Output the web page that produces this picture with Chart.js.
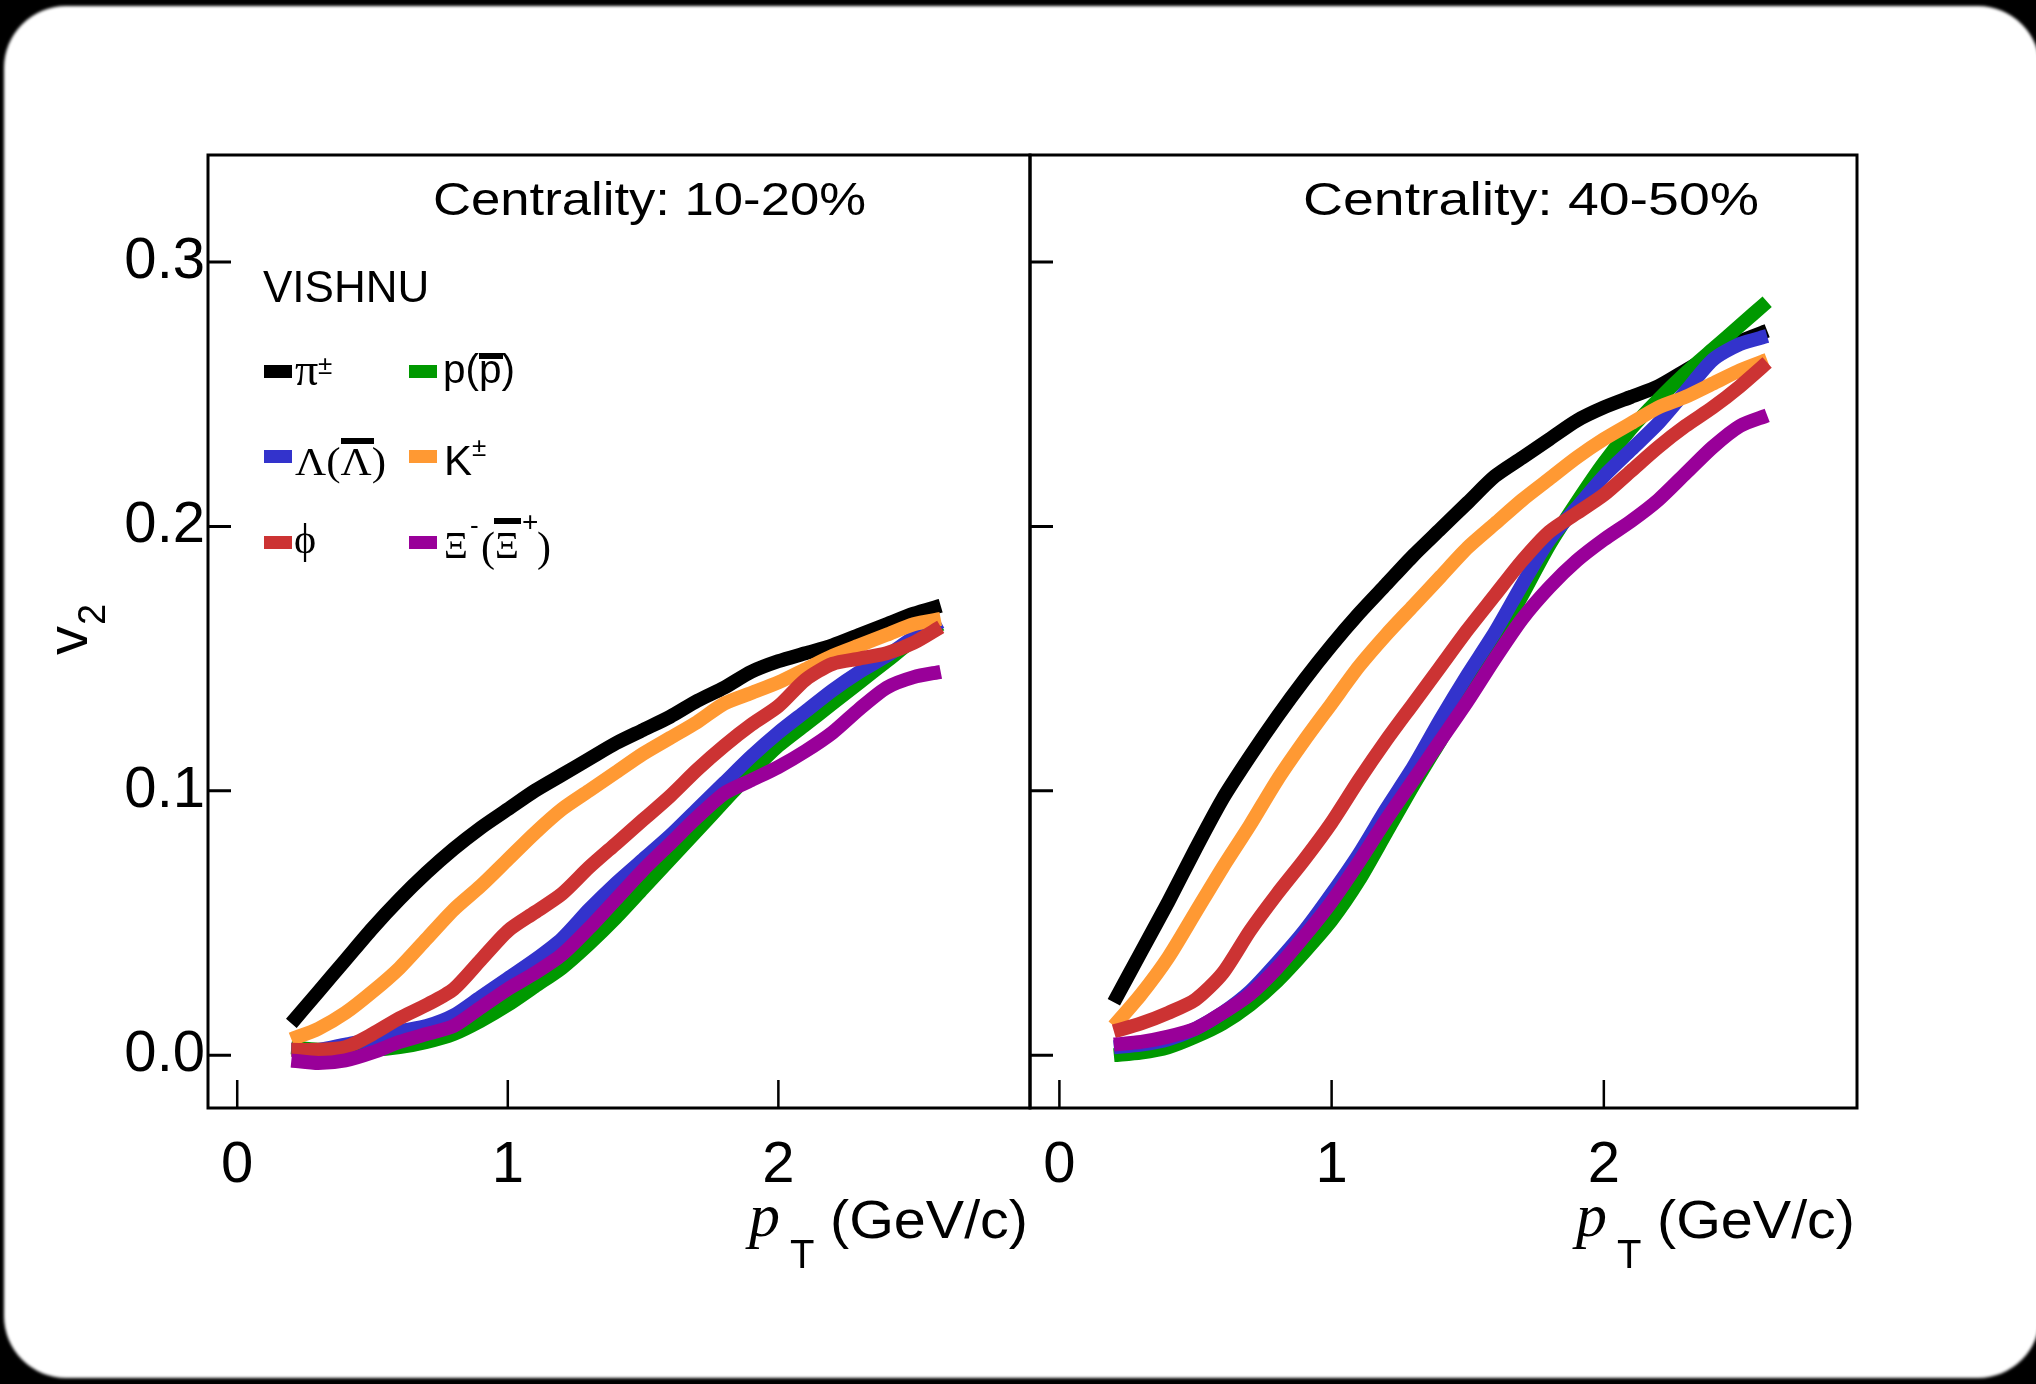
<!DOCTYPE html>
<html>
<head>
<meta charset="utf-8">
<title>VISHNU v2 vs pT</title>
<script src="https://cdn.jsdelivr.net/npm/chart.js@4.4.1/dist/chart.umd.min.js"></script>
<style>
  html, body { margin: 0; padding: 0; width: 2036px; height: 1384px; background: #000; overflow: hidden; }
  #card { position: absolute; left: 4px; top: 6px; width: 2036px; height: 1372px; background: #fff; border-radius: 62px; filter: blur(1.5px); }
  canvas { position: absolute; left: 0; top: 0; }
</style>
</head>
<body>
<div id="card"></div>
<canvas id="panelA" width="2036" height="1384" style="width:2036px;height:1384px"></canvas>
<canvas id="panelB" width="2036" height="1384" style="width:2036px;height:1384px"></canvas>
<script>
// transverse momentum grid (GeV/c)
const pT = [0.2, 0.3, 0.4, 0.5, 0.6, 0.7, 0.8, 0.9, 1.0, 1.1, 1.2, 1.3, 1.4,
            1.5, 1.6, 1.7, 1.8, 1.9, 2.0, 2.1, 2.2, 2.3, 2.4, 2.5, 2.6];

// v2 — centrality 10-20%
const pion1020   = [0.012, 0.024, 0.036, 0.048, 0.059, 0.069, 0.078, 0.086, 0.093, 0.100, 0.106, 0.112, 0.118,
                    0.123, 0.128, 0.134, 0.139, 0.145, 0.149, 0.152, 0.155, 0.159, 0.163, 0.167, 0.170];
const proton1020 = [0.003, 0.002, 0.002, 0.002, 0.003, 0.005, 0.008, 0.013, 0.019, 0.026, 0.033, 0.042, 0.052,
                    0.063, 0.074, 0.085, 0.096, 0.107, 0.117, 0.125, 0.133, 0.141, 0.149, 0.157, 0.163];
const lambda1020 = [0.002, 0.002, 0.004, 0.006, 0.009, 0.011, 0.015, 0.022, 0.029, 0.036, 0.044, 0.055, 0.065,
                    0.074, 0.083, 0.093, 0.103, 0.113, 0.122, 0.130, 0.138, 0.145, 0.151, 0.158, 0.164];
const kaon1020   = [0.006, 0.010, 0.016, 0.024, 0.033, 0.044, 0.055, 0.064, 0.074, 0.084, 0.093, 0.100, 0.107,
                    0.114, 0.120, 0.126, 0.133, 0.137, 0.141, 0.146, 0.151, 0.155, 0.159, 0.163, 0.165];
const phi1020    = [0.002, 0.002, 0.003, 0.008, 0.014, 0.019, 0.025, 0.036, 0.047, 0.054, 0.061, 0.071, 0.080,
                    0.089, 0.098, 0.108, 0.117, 0.125, 0.132, 0.142, 0.148, 0.150, 0.152, 0.156, 0.162];
const xi1020     = [-0.002, -0.003, -0.002, 0.001, 0.005, 0.008, 0.011, 0.018, 0.025, 0.031, 0.038, 0.048, 0.059,
                    0.070, 0.080, 0.090, 0.099, 0.104, 0.109, 0.115, 0.122, 0.131, 0.139, 0.143, 0.145];

// v2 — centrality 40-50%
const pion4050   = [0.020, 0.039, 0.058, 0.078, 0.097, 0.113, 0.128, 0.142, 0.155, 0.167, 0.178, 0.189, 0.199,
                    0.209, 0.219, 0.226, 0.233, 0.240, 0.245, 0.249, 0.253, 0.259, 0.265, 0.270, 0.274];
const proton4050 = [0.000, 0.001, 0.003, 0.007, 0.012, 0.019, 0.028, 0.039, 0.051, 0.066, 0.084, 0.102, 0.119,
                    0.136, 0.155, 0.174, 0.193, 0.209, 0.224, 0.237, 0.248, 0.258, 0.267, 0.276, 0.285];
const lambda4050 = [0.003, 0.004, 0.006, 0.010, 0.016, 0.024, 0.035, 0.047, 0.061, 0.076, 0.093, 0.109, 0.127,
                    0.144, 0.160, 0.178, 0.195, 0.207, 0.219, 0.229, 0.239, 0.251, 0.263, 0.269, 0.272];
const kaon4050   = [0.011, 0.023, 0.037, 0.054, 0.071, 0.087, 0.104, 0.119, 0.133, 0.147, 0.159, 0.170, 0.181,
                    0.192, 0.201, 0.210, 0.218, 0.226, 0.233, 0.239, 0.245, 0.249, 0.254, 0.259, 0.263];
const phi4050    = [0.009, 0.012, 0.016, 0.021, 0.031, 0.047, 0.061, 0.074, 0.088, 0.104, 0.119, 0.133, 0.147,
                    0.161, 0.174, 0.187, 0.198, 0.205, 0.212, 0.221, 0.230, 0.238, 0.245, 0.253, 0.262];
const xi4050     = [0.004, 0.005, 0.007, 0.010, 0.016, 0.023, 0.033, 0.045, 0.058, 0.073, 0.089, 0.104, 0.119,
                    0.134, 0.150, 0.165, 0.177, 0.187, 0.195, 0.202, 0.210, 0.220, 0.230, 0.238, 0.242];

// axis ticks
const xTickValues = [0, 1, 2];
const xTickLabels = ['0', '1', '2'];
const yTickValues = [0, 0.1, 0.2, 0.3];
const yTickLabels = ['0.0', '0.1', '0.2', '0.3'];
const panelTitles = ['Centrality: 10-20%', 'Centrality: 40-50%'];

const SANS = "'Liberation Sans', Arial, Helvetica, sans-serif";
const SERIF = "'Liberation Serif', 'Times New Roman', serif";
const W = 2036, H = 1384;

// frame edges of the two panels (page pixels)
const FRAME = { top: 155, bottom: 1108, left: 208, mid: 1030, right: 1857 };
const X_RANGE = [-0.108, 2.93];
const Y_RANGE = [-0.02, 0.3405];
const XAXIS_H = 120;

// species styling; a lower "order" is painted on top
const species = [
  { name: 'pi',     color: '#000000', order: 6 },
  { name: 'proton', color: '#009900', order: 5 },
  { name: 'lambda', color: '#3333cc', order: 4 },
  { name: 'kaon',   color: '#ff9933', order: 3 },
  { name: 'phi',    color: '#cc3333', order: 2 },
  { name: 'xi',     color: '#990099', order: 1 }
];
const panelSeries = [
  [pion1020, proton1020, lambda1020, kaon1020, phi1020, xi1020],
  [pion4050, proton4050, lambda4050, kaon4050, phi4050, xi4050]
];

function drawText(ctx, s, x, y, font, width) {
  ctx.save();
  ctx.font = font;
  ctx.textAlign = 'left';
  ctx.textBaseline = 'alphabetic';
  ctx.fillStyle = '#000';
  const w = ctx.measureText(s).width;
  const sx = width ? width / w : 1;
  ctx.translate(x, y);
  ctx.scale(sx, 1);
  ctx.fillText(s, 0, 0);
  ctx.restore();
  return w * sx;
}

function drawLegend(ctx) {
  const sw = (color, x, y) => { ctx.fillStyle = color; ctx.fillRect(x, y, 28, 13); };
  const bar = (x0, x1, y0, h) => { ctx.fillStyle = '#000'; ctx.fillRect(x0, y0, x1 - x0, h); };

  drawText(ctx, 'VISHNU', 263, 302, `44px ${SANS}`);

  // row 1: pi, proton
  sw(species[0].color, 264, 365);
  drawText(ctx, '\u03C0', 295, 385, `46px ${SERIF}`);
  drawText(ctx, '\u00B1', 318, 374, `26px ${SANS}`);
  sw(species[1].color, 409, 365);
  drawText(ctx, 'p(p)', 443, 383, `41px ${SANS}`, 72);
  bar(479, 503, 353, 6);

  // row 2: lambda, kaon
  sw(species[2].color, 264, 450);
  drawText(ctx, '\u039B(\u039B)', 295, 475, `41px ${SERIF}`, 91);
  bar(341, 374, 438, 6);
  sw(species[3].color, 409, 450);
  const kw = drawText(ctx, 'K', 444, 475, `42px ${SANS}`);
  drawText(ctx, '\u00B1', 444 + kw, 456, `26px ${SANS}`);

  // row 3: phi, xi
  sw(species[4].color, 264, 536);
  drawText(ctx, '\u03D5', 294, 553, `42px ${SERIF}`);
  sw(species[5].color, 409, 536);
  drawText(ctx, '\u039E', 444, 558, `37px ${SERIF}`);
  drawText(ctx, '-', 470, 534, `26px ${SANS}`);
  drawText(ctx, '(', 481, 561, `42px ${SERIF}`);
  drawText(ctx, '\u039E', 495, 558, `37px ${SERIF}`);
  bar(494, 521, 518, 6);
  drawText(ctx, '+', 522, 531, `28px ${SANS}`);
  drawText(ctx, ')', 537, 561, `42px ${SERIF}`);
}

function decorPlugin(panel) {
  return {
    id: 'decor' + panel,
    afterDraw(chart) {
      const { ctx, chartArea: a, scales: { x, y } } = chart;
      ctx.save();
      ctx.strokeStyle = '#000';
      ctx.lineWidth = 3;
      ctx.strokeRect(a.left, a.top, a.right - a.left, a.bottom - a.top);

      // inward tick marks
      ctx.beginPath();
      yTickValues.forEach(v => {
        const py = y.getPixelForValue(v);
        ctx.moveTo(a.left, py);
        ctx.lineTo(a.left + 23, py);
      });
      ctx.stroke();
      ctx.lineWidth = 2.5;
      ctx.beginPath();
      xTickValues.forEach(v => {
        const px = x.getPixelForValue(v);
        ctx.moveTo(px, a.bottom);
        ctx.lineTo(px, a.bottom - 28);
      });
      ctx.stroke();
      ctx.restore();

      // panel title
      if (panel === 0) drawText(ctx, panelTitles[0], 433, 215, `46px ${SANS}`, 433);
      else drawText(ctx, panelTitles[1], 1303, 215, `46px ${SANS}`, 456);

      // x axis title: p_T (GeV/c)
      drawText(ctx, 'p', a.right - 281, 1236, `italic 62px ${SERIF}`);
      drawText(ctx, 'T', a.right - 240, 1268, `40px ${SANS}`);
      drawText(ctx, '(GeV/c)', a.right - 200, 1238, `54px ${SANS}`, 198);

      if (panel === 0) {
        // y axis title: v_2
        ctx.save();
        ctx.translate(87, 655);
        ctx.rotate(-Math.PI / 2);
        ctx.fillStyle = '#000';
        ctx.font = `58px ${SANS}`;
        ctx.textBaseline = 'alphabetic';
        ctx.fillText('v', 0, 0);
        ctx.font = `38px ${SANS}`;
        ctx.fillText('2', 30, 18);
        ctx.restore();
        drawLegend(ctx);
      }
    }
  };
}

function buildPanel(canvasId, panel) {
  const isLeft = panel === 0;
  const yWidth = isLeft ? FRAME.left : 60;
  const datasets = species.map((s, i) => ({
    label: s.name,
    data: pT.map((px, j) => ({ x: px, y: panelSeries[panel][i][j] })),
    borderColor: s.color,
    backgroundColor: s.color,
    borderWidth: 14,
    pointRadius: 0,
    fill: false,
    tension: 0.25,
    borderCapStyle: 'butt',
    borderJoinStyle: 'round',
    order: s.order
  }));

  return new Chart(document.getElementById(canvasId), {
    type: 'line',
    data: { datasets },
    options: {
      responsive: false,
      animation: false,
      events: [],
      devicePixelRatio: 1,
      layout: {
        padding: {
          left: isLeft ? 0 : FRAME.mid - yWidth,
          right: isLeft ? W - FRAME.mid : W - FRAME.right,
          top: FRAME.top,
          bottom: H - FRAME.bottom - XAXIS_H
        }
      },
      plugins: { legend: { display: false }, tooltip: { enabled: false }, title: { display: false } },
      scales: {
        x: {
          type: 'linear',
          min: X_RANGE[0],
          max: X_RANGE[1],
          grid: { display: false, drawTicks: false },
          border: { display: false },
          afterBuildTicks: s => { s.ticks = xTickValues.map(v => ({ value: v })); },
          afterFit: s => { s.height = XAXIS_H; },
          ticks: {
            callback: (v, i) => xTickLabels[i],
            font: { family: SANS, size: 58 },
            color: '#000',
            padding: 23,
            maxRotation: 0,
            autoSkip: false
          }
        },
        y: {
          type: 'linear',
          min: Y_RANGE[0],
          max: Y_RANGE[1],
          grid: { display: false, drawTicks: false },
          border: { display: false },
          afterBuildTicks: s => { s.ticks = yTickValues.map(v => ({ value: v })); },
          afterFit: s => { s.width = yWidth; },
          ticks: {
            display: isLeft,
            callback: (v, i) => yTickLabels[i],
            font: { family: SANS, size: 58 },
            color: '#000',
            padding: 3,
            autoSkip: false
          }
        }
      }
    },
    plugins: [decorPlugin(panel)]
  });
}

buildPanel('panelA', 0);
buildPanel('panelB', 1);
</script>
</body>
</html>
